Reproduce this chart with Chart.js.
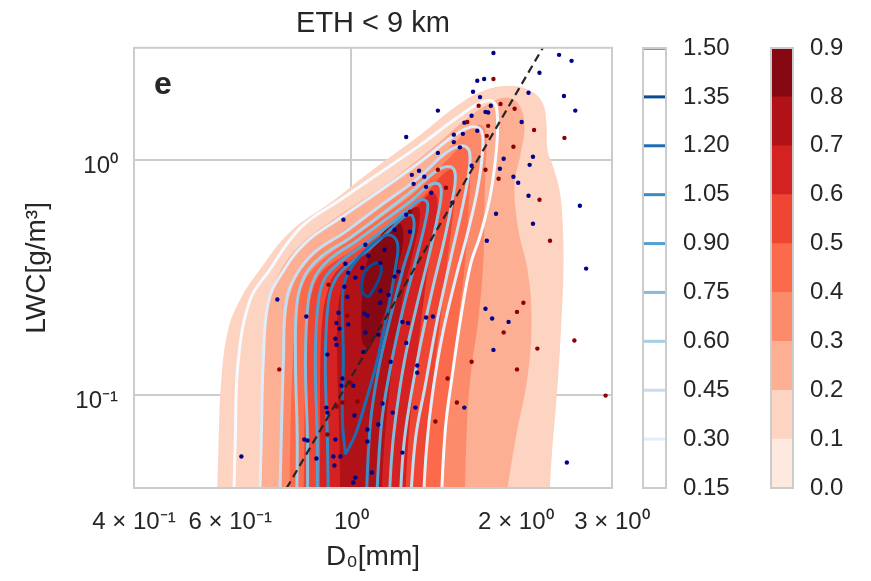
<!DOCTYPE html>
<html>
<head>
<meta charset="utf-8">
<script src="https://cdn.jsdelivr.net/npm/chart.js@4.4.1/dist/chart.umd.min.js"></script>
<style>
  body { margin: 0; background: #fff; }
  #wrap { position: relative; width: 871px; height: 581px; }
  canvas { position: absolute; top: 0; }
</style>
</head>
<body>
<div id="wrap">
  <canvas id="main" width="871" height="581" style="left:0"></canvas>
  <canvas id="cbBlue" width="160" height="581" style="left:600px"></canvas>
  <canvas id="cbRed" width="111" height="581" style="left:760px"></canvas>
</div>
<script>
// axis ticks
var xTickValues = [0.4, 0.6, 1, 2, 3];
var xTickLabels = ['4 × 10⁻¹', '6 × 10⁻¹', '10⁰', '2 × 10⁰', '3 × 10⁰'];
var yTickValues = [0.1, 1];
var yTickLabels = ['10⁻¹', '10⁰'];

// contour levels
var redLevels = [0.0, 0.1, 0.2, 0.3, 0.4, 0.5, 0.6, 0.7, 0.8, 0.9];
var blueLevels = [0.15, 0.30, 0.45, 0.60, 0.75, 0.90, 1.05, 1.20, 1.35, 1.50];

// filled KDE contours (red), [D0, LWC], outer -> inner
var redKde1 = [[0.566,0.029],[0.571,0.0583],[0.578,0.116],[0.595,0.189],[0.626,0.254],[0.676,0.334],[0.773,0.494],[0.915,0.656],[1.107,0.925],[1.338,1.278],[1.550,1.681],[1.723,1.947],[1.914,2.065],[2.110,1.986],[2.238,1.748],[2.276,1.409],[2.286,1.103],[2.344,0.925],[2.404,0.745],[2.435,0.556],[2.445,0.340],[2.414,0.171],[2.374,0.0952],[2.325,0.0529],[2.296,0.029]];
var redKde2 = [[0.676,0.029],[0.681,0.0644],[0.687,0.128],[0.699,0.230],[0.735,0.324],[0.807,0.435],[0.955,0.583],[1.154,0.783],[1.395,1.103],[1.617,1.480],[1.782,1.730],[1.914,1.836],[2.022,1.730],[2.074,1.409],[2.039,1.050],[1.989,0.783],[2.022,0.504],[2.101,0.340],[2.137,0.209],[2.101,0.119],[1.997,0.0644],[1.890,0.029]];
var redKde3 = [[0.738,0.029],[0.744,0.0644],[0.751,0.128],[0.760,0.219],[0.783,0.294],[0.824,0.368],[0.955,0.489],[1.154,0.656],[1.366,0.889],[1.550,1.193],[1.666,1.382],[1.738,1.395],[1.767,1.217],[1.760,0.907],[1.752,0.613],[1.745,0.375],[1.708,0.209],[1.652,0.119],[1.624,0.0644],[1.611,0.029]];
var redKde4 = [[0.770,0.029],[0.773,0.0644],[0.780,0.128],[0.790,0.209],[0.807,0.274],[0.848,0.340],[0.975,0.443],[1.154,0.583],[1.338,0.760],[1.499,1.000],[1.584,1.125],[1.638,1.103],[1.652,0.907],[1.638,0.613],[1.617,0.375],[1.570,0.209],[1.525,0.116],[1.486,0.0644],[1.455,0.029]];
var redKde5 = [[0.817,0.029],[0.820,0.0644],[0.824,0.128],[0.831,0.209],[0.848,0.274],[0.885,0.334],[0.996,0.406],[1.179,0.529],[1.366,0.710],[1.468,0.863],[1.531,0.907],[1.550,0.783],[1.531,0.556],[1.499,0.375],[1.455,0.209],[1.413,0.116],[1.378,0.0644],[1.349,0.029]];
var redKde6 = [[0.874,0.029],[0.877,0.0644],[0.877,0.128],[0.885,0.209],[0.904,0.274],[0.939,0.334],[1.039,0.398],[1.204,0.514],[1.338,0.656],[1.407,0.724],[1.437,0.676],[1.419,0.504],[1.384,0.357],[1.343,0.209],[1.304,0.116],[1.272,0.0644],[1.250,0.029]];
var redKde7 = [[0.955,0.029],[0.951,0.0644],[0.943,0.128],[0.943,0.209],[0.959,0.280],[0.996,0.347],[1.083,0.422],[1.204,0.524],[1.282,0.613],[1.327,0.625],[1.332,0.545],[1.293,0.394],[1.240,0.254],[1.199,0.155],[1.169,0.0952],[1.144,0.0529],[1.130,0.029]];
var redKde8 = [[1.083,0.158],[1.052,0.163],[1.043,0.189],[1.047,0.266],[1.065,0.357],[1.111,0.448],[1.179,0.524],[1.229,0.534],[1.245,0.466],[1.219,0.357],[1.179,0.266],[1.130,0.199],[1.083,0.158]];

// line KDE contours (blue), levels 0.15 .. 1.35
var blueKde1 = [[0.608,0.029],[0.613,0.0644],[0.621,0.141],[0.653,0.254],[0.705,0.334],[0.807,0.514],[0.955,0.676],[1.107,0.855],[1.338,1.158],[1.570,1.524],[1.723,1.748],[1.820,1.765],[1.851,1.509],[1.843,1.103],[1.797,0.710],[1.723,0.480],[1.652,0.357],[1.584,0.209],[1.531,0.122],[1.486,0.0710],[1.455,0.029]];
var blueKde2 = [[0.678,0.029],[0.684,0.0644],[0.690,0.141],[0.705,0.249],[0.747,0.330],[0.824,0.443],[0.955,0.566],[1.121,0.731],[1.338,0.981],[1.550,1.278],[1.666,1.382],[1.730,1.328],[1.738,1.082],[1.701,0.745],[1.638,0.504],[1.550,0.309],[1.468,0.180],[1.407,0.100],[1.372,0.0583],[1.349,0.029]];
var blueKde3 = [[0.738,0.029],[0.744,0.0644],[0.751,0.141],[0.760,0.249],[0.793,0.324],[0.859,0.406],[0.975,0.494],[1.130,0.637],[1.327,0.838],[1.499,1.082],[1.597,1.147],[1.645,1.082],[1.638,0.863],[1.590,0.601],[1.518,0.375],[1.437,0.209],[1.366,0.110],[1.310,0.0644],[1.277,0.029]];
var blueKde4 = [[0.793,0.029],[0.796,0.0644],[0.790,0.141],[0.796,0.249],[0.824,0.324],[0.885,0.390],[0.996,0.466],[1.140,0.589],[1.299,0.745],[1.443,0.907],[1.518,0.934],[1.550,0.863],[1.531,0.676],[1.480,0.457],[1.407,0.280],[1.338,0.163],[1.282,0.0952],[1.245,0.0583],[1.224,0.029]];
var blueKde5 = [[0.831,0.029],[0.831,0.0644],[0.824,0.141],[0.834,0.249],[0.859,0.318],[0.915,0.379],[1.017,0.448],[1.154,0.556],[1.293,0.676],[1.384,0.775],[1.443,0.790],[1.461,0.724],[1.437,0.566],[1.384,0.383],[1.315,0.235],[1.250,0.138],[1.204,0.0783],[1.184,0.0529],[1.169,0.029]];
var blueKde6 = [[0.866,0.029],[0.866,0.0644],[0.859,0.141],[0.870,0.249],[0.896,0.315],[0.955,0.368],[1.047,0.431],[1.169,0.524],[1.282,0.625],[1.338,0.676],[1.378,0.656],[1.366,0.545],[1.310,0.368],[1.240,0.225],[1.179,0.130],[1.135,0.0746],[1.107,0.029]];
var blueKde7 = [[0.908,0.029],[0.904,0.0644],[0.896,0.141],[0.908,0.249],[0.935,0.309],[0.987,0.357],[1.074,0.414],[1.179,0.504],[1.250,0.572],[1.293,0.578],[1.299,0.494],[1.245,0.347],[1.179,0.213],[1.121,0.128],[1.083,0.0746],[1.061,0.029]];
var blueKde8 = [[0.975,0.0556],[1.017,0.0676],[1.065,0.0952],[1.116,0.141],[1.164,0.225],[1.204,0.347],[1.214,0.443],[1.169,0.480],[1.093,0.439],[1.017,0.368],[0.975,0.309],[0.963,0.254],[0.967,0.141],[0.963,0.0783],[0.975,0.0556]];
var blueKde9 = [[1.074,0.259],[1.047,0.274],[1.052,0.321],[1.079,0.350],[1.121,0.364],[1.135,0.337],[1.111,0.294],[1.074,0.259]];

// observations
var blueD0 = [1.82,2.40,2.53,2.21,1.70,1.75,1.67,2.11,2.45,1.72, 1.76,1.78,1.80,1.44,2.57,1.66,1.61,2.05,1.70,1.26,
  1.54,1.60,1.58,1.54,1.44,1.90,2.15,1.66,1.87,2.12, 1.33,1.98,2.02,1.29,1.36,1.30,1.37,1.40,1.53,2.11,
  2.62,1.84,2.15,1.77,2.69,1.13,1.13,1.17,1.20,1.22, 1.13,1.24,1.27,1.26,1.37,1.41,1.12,1.18,1.32,1.32,
  1.14,1.19,1.31,1.12,1.24,1.09,1.76,1.81,1.94,1.82, 1.61,2.48,0.732,0.629,0.827,0.904,0.947,0.939,0.987,0.935,
  0.939,0.963,0.959,1.008,0.900,0.904,1.013,0.820,0.831,0.935, 0.863,0.927,0.955,0.931,1.017,1.008,1.070,1.070,1.056,1.070,
  1.061,1.052,0.975,0.987,1.017,1.047,0.983,0.971,0.967,1.061, 1.074,0.951,1.20,1.26,1.15,1.28];
var blueLWC = [2.85,2.80,2.64,2.35,2.17,2.21,1.95,1.93,1.87,1.85, 1.60,1.59,1.70,1.62,1.62,1.54,1.44,1.45,1.33,1.25,
  1.28,1.29,1.13,1.19,1.07,1.01,1.03,0.943,0.916,0.952, 0.898,0.847,0.798,0.863,0.847,0.790,0.767,0.724,0.656,0.703,
  0.637,0.589,0.534,0.452,0.344,0.364,0.277,0.266,0.318,0.334, 0.246,0.204,0.202,0.166,0.213,0.215,0.180,0.138,0.133,0.124,
  0.0916,0.0838,0.0880,0.0746,0.0566,0.0466,0.232,0.211,0.204,0.155, 0.0880,0.0514,0.254,0.0545,0.215,0.148,0.223,0.202,0.199,0.173,
  0.163,0.117,0.109,0.109,0.0880,0.0838,0.0814,0.0644,0.0637,0.0644, 0.0534,0.0545,0.0545,0.0499,0.0443,0.0422,0.0710,0.0631,0.221,0.217,
  0.184,0.152,0.361,0.330,0.315,0.347,0.261,0.288,0.556,0.435, 0.390,0.191,0.504,0.583,0.414,0.494];
var redD0 = [1.82,1.875,1.99,1.71,1.63,1.78,2.16,2.455,1.77,1.98, 1.76,1.44,1.86,1.49,2.21,1.28,2.31,2.065,2.01,1.90,
  2.19,2.01,1.66,1.56,1.425,1.50,2.56,2.92,0.738,0.908, 0.983,0.996,0.939,0.963,1.026,0.904];
var redLWC = [2.21,1.73,1.65,1.70,1.45,1.395,1.34,1.24,1.265,1.136, 0.907,0.907,0.830,0.760,0.676,0.601,0.452,0.246,0.225,0.184,
  0.157,0.128,0.138,0.0925,0.0768,0.117,0.170,0.099,0.128,0.294, 0.217,0.112,0.0889,0.0925,0.0934,0.0676];

// dashed reference line
var fitD0 = [0.74, 2.3];
var fitLWC = [0.0357, 3.33];

var redBandColors = ['#fee9df','#fdd3c1','#fcaf93','#fc8b6c','#fa6a4b','#ef4533','#d42121','#b11218','#850812'];
var blueLineColors = ['#f7fbff','#e1edf8','#c9ddf0','#a6cee4','#84bcdc','#559fd0','#3b8bc2','#1e6db2','#0b4d94','#08306b'];

var FONT = "'Liberation Sans', Arial, sans-serif";
var INK = '#262626';
var GRID = '#cccccc';

function toXY(pts) {
  return pts.map(function (p) { return {x: p[0], y: p[1]}; });
}
function pairs(xs, ys) {
  return xs.map(function (x, i) { return {x: x, y: ys[i]}; });
}

var framePlugin = {
  id: 'frame',
  afterDatasetsDraw: function (chart) {
    var a = chart.chartArea, ctx = chart.ctx;
    ctx.save();
    ctx.strokeStyle = GRID;
    ctx.lineWidth = 2;
    ctx.strokeRect(a.left, a.top, a.right - a.left, a.bottom - a.top);
    ctx.restore();
  }
};

var letterPlugin = {
  id: 'panelLetter',
  afterDraw: function (chart) {
    var a = chart.chartArea, ctx = chart.ctx;
    ctx.save();
    ctx.fillStyle = INK;
    ctx.font = 'bold 32px ' + FONT;
    ctx.textBaseline = 'alphabetic';
    ctx.fillText('e', a.left + 20, a.top + 46);
    ctx.restore();
  }
};

var redShapes = [redKde1, redKde2, redKde3, redKde4, redKde5, redKde6, redKde7, redKde8];
var blueShapes = [blueKde1, blueKde2, blueKde3, blueKde4, blueKde5, blueKde6, blueKde7, blueKde8, blueKde9];

var datasets = [];
redShapes.forEach(function (pts, i) {
  datasets.push({
    label: 'red ' + redLevels[i + 1],
    data: toXY(pts),
    backgroundColor: redBandColors[i + 1],
    borderWidth: 0,
    pointRadius: 0,
    fill: 'shape',
    tension: 0.4,
    clip: 0,
    order: 100 - i
  });
});
blueShapes.forEach(function (pts, i) {
  datasets.push({
    label: 'blue ' + blueLevels[i],
    data: toXY(pts),
    borderColor: blueLineColors[i],
    borderWidth: 3,
    pointRadius: 0,
    fill: false,
    tension: 0.4,
    clip: 0,
    order: 50 - i
  });
});
datasets.push({
  label: 'blue points',
  data: pairs(blueD0, blueLWC),
  showLine: false,
  pointRadius: 2.2,
  pointBorderWidth: 0,
  pointBackgroundColor: '#00008b',
  order: 3
});
datasets.push({
  label: 'red points',
  data: pairs(redD0, redLWC),
  showLine: false,
  pointRadius: 2.2,
  pointBorderWidth: 0,
  pointBackgroundColor: '#8b0000',
  order: 2
});
datasets.push({
  label: 'fit',
  data: pairs(fitD0, fitLWC),
  borderColor: INK,
  borderWidth: 2.2,
  borderDash: [8, 5],
  pointRadius: 0,
  fill: false,
  clip: 0,
  order: 1
});

new Chart(document.getElementById('main'), {
  type: 'line',
  data: {datasets: datasets},
  options: {
    responsive: false,
    animation: false,
    events: [],
    layout: {padding: {left: 0, right: 259, top: 0, bottom: 0}},
    elements: {line: {capBezierPoints: false}},
    plugins: {
      legend: {display: false},
      tooltip: {enabled: false},
      title: {
        display: true,
        text: 'ETH < 9 km',
        fullSize: false,
        color: INK,
        font: {family: FONT, size: 29, weight: 'normal'},
        padding: {top: 7, bottom: 6}
      }
    },
    scales: {
      x: {
        type: 'logarithmic',
        min: 0.4,
        max: 3,
        afterBuildTicks: function (s) { s.ticks = xTickValues.map(function (v) { return {value: v}; }); },
        afterFit: function (s) { s.height = 93; },
        ticks: {
          autoSkip: false,
          maxRotation: 0,
          padding: 20,
          color: INK,
          font: {family: FONT, size: 24},
          callback: function (v, i) { return xTickLabels[i]; }
        },
        grid: {
          drawTicks: false,
          lineWidth: 2,
          color: function (c) { return c.tick && c.tick.value === 1 ? GRID : 'rgba(0,0,0,0)'; }
        },
        border: {display: false},
        title: {
          display: true,
          text: 'D₀[mm]',
          color: INK,
          font: {family: FONT, size: 28},
          padding: {top: 0, bottom: 7}
        }
      },
      y: {
        type: 'logarithmic',
        min: 0.04,
        max: 3,
        afterBuildTicks: function (s) { s.ticks = yTickValues.map(function (v) { return {value: v}; }); },
        afterFit: function (s) { s.width = 134; },
        ticks: {
          autoSkip: false,
          padding: 16,
          labelOffset: 7,
          color: INK,
          font: {family: FONT, size: 24},
          callback: function (v, i) { return yTickLabels[i]; }
        },
        grid: {drawTicks: false, lineWidth: 2, color: GRID},
        border: {display: false},
        title: {
          display: true,
          text: 'LWC[g/m³]',
          color: INK,
          font: {family: FONT, size: 28},
          padding: {top: 20, bottom: 0}
        }
      }
    }
  },
  plugins: [framePlugin, letterPlugin]
});

// colorbar for the blue line contours
new Chart(document.getElementById('cbBlue'), {
  type: 'line',
  data: {
    datasets: blueLevels.map(function (lev, i) {
      return {
        data: [{x: 0, y: lev}, {x: 1, y: lev}],
        borderColor: blueLineColors[i],
        borderWidth: 3,
        pointRadius: 0,
        clip: 0
      };
    })
  },
  options: {
    responsive: false,
    animation: false,
    events: [],
    layout: {padding: {left: 43, right: 0, top: 48, bottom: 93}},
    plugins: {legend: {display: false}, tooltip: {enabled: false}},
    scales: {
      x: {type: 'linear', min: 0, max: 1, display: false},
      y: {
        type: 'linear',
        position: 'right',
        min: 0.15,
        max: 1.5,
        afterBuildTicks: function (s) { s.ticks = blueLevels.map(function (v) { return {value: v}; }); },
        afterFit: function (s) { s.width = 94; },
        ticks: {
          padding: 17,
          color: INK,
          font: {family: FONT, size: 24},
          callback: function (v) { return v.toFixed(2); }
        },
        grid: {display: false, drawTicks: false},
        border: {display: false}
      }
    }
  },
  plugins: [framePlugin]
});

// colorbar for the red filled contours
new Chart(document.getElementById('cbRed'), {
  type: 'bar',
  data: {
    labels: [''],
    datasets: redBandColors.map(function (c, i) {
      return {
        data: [[redLevels[i], redLevels[i + 1]]],
        backgroundColor: c,
        borderWidth: 0,
        grouped: false,
        barPercentage: 1,
        categoryPercentage: 1
      };
    })
  },
  options: {
    responsive: false,
    animation: false,
    events: [],
    layout: {padding: {left: 11, right: 0, top: 48, bottom: 93}},
    plugins: {legend: {display: false}, tooltip: {enabled: false}},
    scales: {
      x: {display: false},
      y: {
        type: 'linear',
        position: 'right',
        min: 0,
        max: 0.9,
        afterBuildTicks: function (s) { s.ticks = redLevels.map(function (v) { return {value: v}; }); },
        afterFit: function (s) { s.width = 78; },
        ticks: {
          padding: 17,
          color: INK,
          font: {family: FONT, size: 24},
          callback: function (v) { return v.toFixed(1); }
        },
        grid: {display: false, drawTicks: false},
        border: {display: false}
      }
    }
  },
  plugins: [framePlugin]
});
</script>
</body>
</html>
